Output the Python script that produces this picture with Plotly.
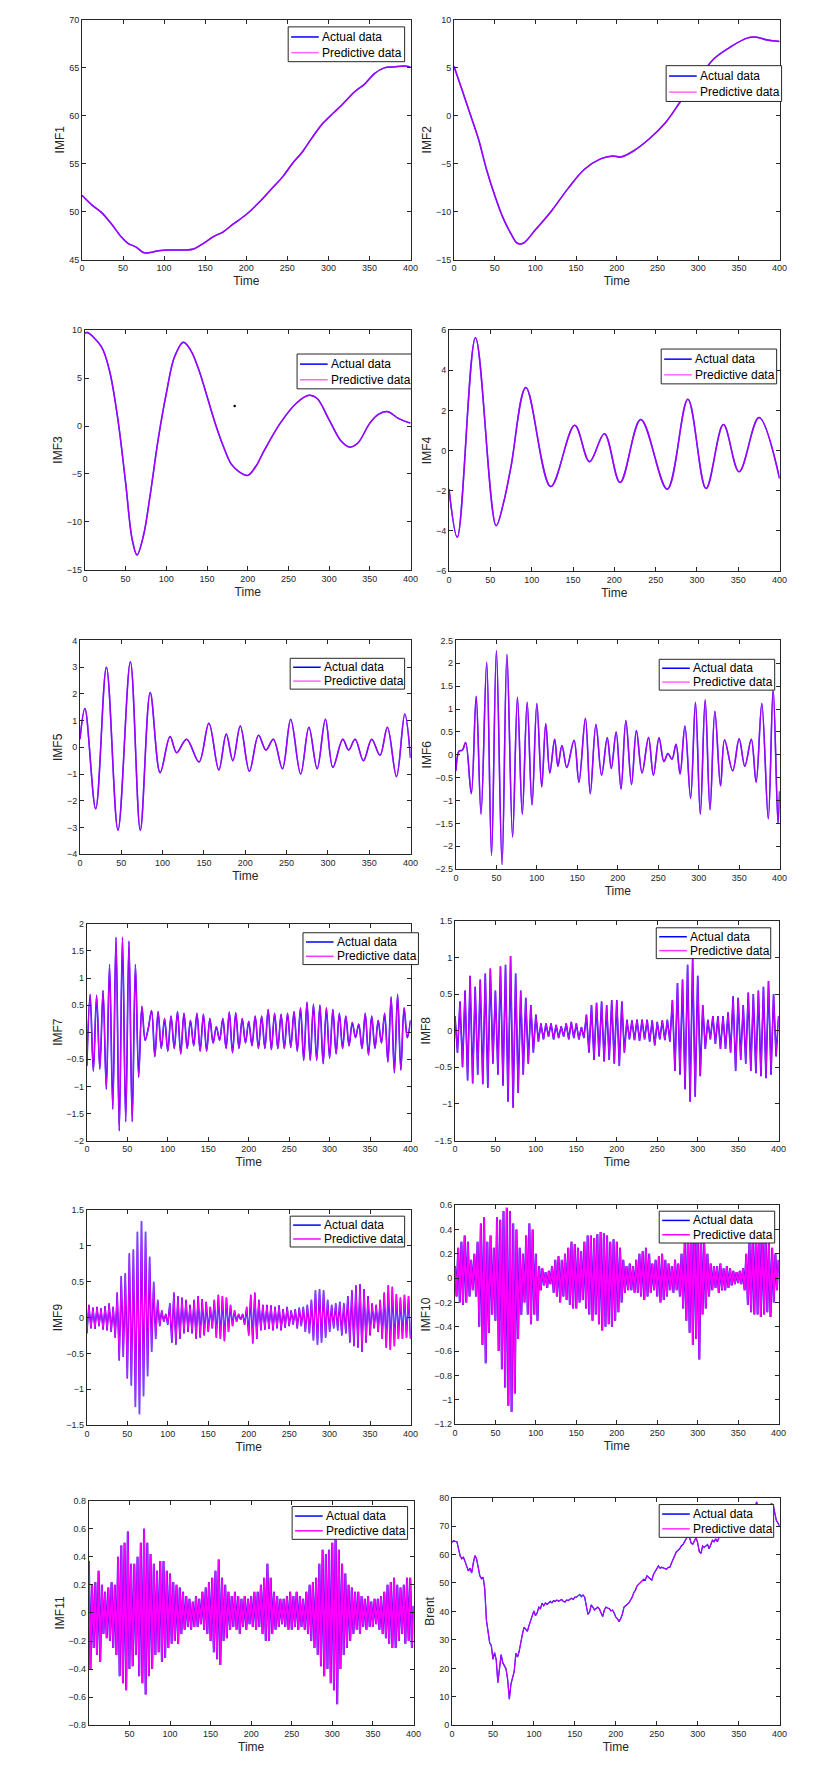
import plotly.graph_objects as go

# ---------------- data ----------------
imf1_time = [0, 12, 24, 36, 48, 56, 66, 76, 92, 104, 124, 136, 148, 160, 172, 184, 200, 216,
             232, 244, 256, 268, 280, 292, 300, 316, 332, 344, 356, 368, 380, 392, 400]
imf1_actual = [51.7, 50.7, 49.9, 48.7, 47.35, 46.7, 46.3, 45.7, 45.9, 46.0, 46.0, 46.1, 46.7, 47.4,
               47.9, 48.7, 49.7, 51.0, 52.5, 53.6, 55.0, 56.2, 57.7, 59.1, 59.8, 61.1, 62.5, 63.3,
               64.4, 65.0, 65.1, 65.2, 65.1]
imf1_predictive = list(imf1_actual)

imf2_time = [0, 10, 20, 30, 40, 50, 60, 70, 78, 85, 100, 120, 140, 160, 180, 195, 205, 220, 240,
             260, 280, 300, 320, 340, 360, 372, 385, 400]
imf2_actual = [5.16, 2.7, 0.15, -2.4, -5.6, -8.3, -10.6, -12.3, -13.3, -13.3, -11.9, -9.9, -7.6,
               -5.6, -4.5, -4.2, -4.3, -3.7, -2.4, -0.7, 1.7, 3.9, 6.0, 7.2, 8.1, 8.2, 7.9, 7.75]
imf2_predictive = list(imf2_actual)

imf3_time = [0, 3, 20, 30, 40, 50, 58, 64, 72, 80, 90, 100, 110, 121, 130, 140, 150, 160, 170,
             180, 190, 200, 210, 220, 240, 260, 275, 285, 300, 315, 325, 335, 350, 360, 372, 385, 400]
imf3_actual = [9.7, 9.75, 8.3, 5.85, 1.0, -5.9, -11.8, -13.45, -11.4, -7.3, -1.4, 3.4, 7.2, 8.75,
               7.9, 5.85, 3.1, 0.3, -2.1, -4.0, -4.8, -5.15, -4.2, -2.6, 0.3, 2.4, 3.2, 2.9, 0.65,
               -1.6, -2.2, -1.8, 0.3, 1.2, 1.5, 0.8, 0.3]
imf3_predictive = list(imf3_actual)
imf3_stray_time = [184]
imf3_stray_value = [2.1]

imf4_time = [0, 10, 32, 57, 66, 75, 93, 123, 152, 170, 188, 207, 232, 264, 289, 311, 332, 351, 375, 400]
imf4_actual = [-1.93, -4.33, 5.62, -3.75, -2.6, -0.8, 3.14, -1.8, 1.26, -0.56, 0.84, -1.6, 1.55,
               -1.93, 2.55, -1.9, 1.29, -1.06, 1.64, -1.4]
imf4_predictive = list(imf4_actual)

imf5_time = [0, 6, 19, 32, 46, 61, 73, 85, 97, 109, 117, 129, 144, 156, 168, 177, 185, 194, 205,
             216, 225, 234, 245, 255, 267, 277, 287, 297, 306, 318, 325, 333, 343, 353, 363, 372,
             383, 393, 400]
imf5_actual = [0.3, 1.45, -2.3, 3.0, -3.1, 3.2, -3.1, 2.05, -0.95, 0.4, -0.2, 0.3, -0.55, 0.9,
               -0.85, 0.5, -0.5, 0.8, -0.9, 0.45, -0.1, 0.3, -0.8, 1.05, -1.0, 0.75, -0.8, 1.05,
               -0.75, 0.3, -0.1, 0.3, -0.5, 0.3, -0.3, 0.75, -1.1, 1.25, -0.4]
imf5_predictive = list(imf5_actual)

imf6_time = [0, 4, 8, 12, 19, 25, 31, 38, 44, 50, 57, 63, 70, 76, 82, 88, 94, 100, 106, 111, 116,
             122, 126, 131, 137, 146, 152, 160, 166, 173, 180, 187, 192, 198, 204, 210, 217, 223,
             230, 238, 244, 251, 257, 262, 267, 272, 277, 283, 290, 296, 302, 308, 314, 320, 327,
             332, 342, 350, 357, 365, 371, 378, 386, 392, 398, 400]
imf6_actual = [-0.35, 0.08, 0.1, 0.27, -0.85, 1.28, -1.3, 2.02, -2.2, 2.28, -2.4, 2.2, -1.8, 1.26,
               -1.3, 1.15, -1.1, 1.12, -0.7, 0.68, -0.4, 0.34, -0.25, 0.2, -0.28, 0.32, -0.6, 0.8,
               -0.85, 0.66, -0.45, 0.37, -0.3, 0.5, -0.75, 0.75, -0.65, 0.53, -0.4, 0.38, -0.45,
               0.37, -0.15, 0.03, -0.1, 0.23, -0.42, 0.63, -0.95, 1.15, -1.3, 1.2, -1.2, 0.95,
               -0.68, 0.33, -0.35, 0.35, -0.25, 0.34, -0.6, 1.12, -1.4, 1.45, -1.5, -0.8]
imf6_predictive = list(imf6_actual)

imf7_time = list(range(0, 401, 4))
imf7_actual = [-0.62, 0.7, -0.72, 0.68, -0.68, 0.77, -1.05, 1.25, -1.42, 1.75,
               -1.82, 1.75, -1.65, 1.68, -1.65, 1.25, -0.83, 0.48, -0.15, 0.08,
               0.4, -0.45, 0.38, -0.3, 0.25, -0.35, 0.3, -0.3, 0.38, -0.4,
               0.35, -0.3, 0.22, -0.25, 0.35, -0.35, 0.33, -0.35, 0.25, -0.2,
               0.1, -0.15, 0.25, -0.3, 0.37, -0.38, 0.36, -0.3, 0.25, -0.2,
               0.2, -0.25, 0.3, -0.3, 0.3, -0.3, 0.42, -0.32, 0.35, -0.3,
               0.33, -0.3, 0.35, -0.28, 0.38, -0.35, 0.45, -0.52, 0.55, -0.52,
               0.52, -0.52, 0.5, -0.58, 0.45, -0.48, 0.42, -0.4, 0.35, -0.3,
               0.3, -0.25, 0.18, -0.1, 0.15, -0.3, 0.35, -0.42, 0.3, -0.3,
               0.22, -0.2, 0.35, -0.55, 0.65, -0.75, 0.7, -0.7, 0.45, -0.1,
               0.22]
imf7_predictive = list(imf7_actual)

imf8_time = [i * 3.125 for i in range(129)]
imf8_actual = [0.2, -0.3, 0.4, -0.5, 0.55, -0.68, 0.75, -0.72, 0.6, -0.6,
               0.7, -0.73, 0.78, -0.78, 0.85, -0.45, 0.55, -0.6, 0.88, -0.75,
               0.9, -0.97, 1.02, -1.05, 0.78, -0.85, 0.55, -0.6, 0.45, -0.45,
               0.35, -0.3, 0.22, -0.15, 0.1, -0.12, 0.1, -0.08, 0.1, -0.12,
               0.08, -0.1, 0.06, -0.08, 0.1, -0.12, 0.12, -0.1, 0.1, -0.12,
               0.05, -0.1, 0.22, -0.3, 0.35, -0.4, 0.38, -0.35, 0.4, -0.42,
               0.35, -0.4, 0.42, -0.45, 0.42, -0.48, 0.4, -0.3, 0.15, -0.12,
               0.14, -0.13, 0.15, -0.14, 0.15, -0.12, 0.15, -0.15, 0.14, -0.2,
               0.12, -0.12, 0.14, -0.13, 0.15, -0.15, 0.42, -0.55, 0.65, -0.6,
               0.7, -0.8, 0.9, -0.97, 1.0, -0.9, 0.75, -0.62, 0.35, -0.25,
               0.15, -0.12, 0.2, -0.18, 0.2, -0.25, 0.2, -0.25, 0.25, -0.3,
               0.47, -0.55, 0.45, -0.4, 0.35, -0.45, 0.52, -0.55, 0.5, -0.58,
               0.55, -0.62, 0.6, -0.65, 0.68, -0.6, 0.5, -0.35, 0.2]
imf8_predictive = list(imf8_actual)

imf9_time = [i * 2.5 for i in range(161)]
imf9_actual = [-0.22, 0.18, -0.15, 0.14, -0.16, 0.15, -0.12, 0.13, -0.17, 0.16,
               -0.18, 0.2, -0.2, 0.15, -0.28, 0.35, -0.6, 0.58, -0.55, 0.62,
               -0.85, 0.9, -0.95, 0.95, -1.25, 1.2, -1.35, 1.35, -1.1, 1.2,
               -0.82, 0.85, -0.48, 0.5, -0.3, 0.25, -0.12, 0.1, -0.06, 0.05,
               -0.1, 0.2, -0.35, 0.35, -0.38, 0.3, -0.3, 0.28, -0.22, 0.25,
               -0.2, 0.18, -0.22, 0.25, -0.3, 0.3, -0.28, 0.26, -0.25, 0.22,
               -0.2, 0.15, -0.15, 0.25, -0.28, 0.32, -0.3, 0.3, -0.33, 0.28,
               -0.2, 0.18, -0.12, 0.1, -0.06, 0.05, -0.03, 0.05, -0.1, 0.15,
               -0.25, 0.32, -0.36, 0.35, -0.3, 0.25, -0.18, 0.18, -0.17, 0.18,
               -0.16, 0.17, -0.18, 0.15, -0.15, 0.17, -0.18, 0.12, -0.14, 0.15,
               -0.12, 0.1, -0.1, 0.12, -0.15, 0.14, -0.12, 0.15, -0.2, 0.18,
               -0.22, 0.25, -0.32, 0.38, -0.38, 0.4, -0.35, 0.38, -0.28, 0.25,
               -0.2, 0.18, -0.15, 0.2, -0.18, 0.22, -0.25, 0.2, -0.22, 0.3,
               -0.35, 0.38, -0.4, 0.45, -0.42, 0.47, -0.48, 0.4, -0.35, 0.3,
               -0.25, 0.2, -0.15, 0.18, -0.2, 0.25, -0.3, 0.35, -0.42, 0.45,
               -0.45, 0.43, -0.4, 0.33, -0.3, 0.28, -0.3, 0.32, -0.28, 0.3,
               -0.3]
imf9_predictive = list(imf9_actual)

imf10_time = list(range(0, 401, 2))
imf10_actual = [0.1, -0.15, 0.25, -0.2, 0.3, -0.22, 0.35, -0.2, 0.3, -0.15,
                0.15, -0.1, 0.2, -0.15, 0.3, -0.4, 0.45, -0.55, 0.5, -0.7,
                0.3, -0.45, 0.35, -0.3, 0.25, -0.35, 0.5, -0.6, 0.48, -0.75,
                0.55, -0.9, 0.58, -1.05, 0.55, -1.1, 0.45, -0.95, 0.4, -0.5,
                0.25, -0.3, 0.2, -0.2, 0.35, -0.3, 0.45, -0.38, 0.4, -0.3,
                0.2, -0.35, 0.1, -0.1, 0.08, -0.06, 0.05, -0.08, 0.06, -0.05,
                0.1, -0.12, 0.15, -0.15, 0.18, -0.2, 0.15, -0.15, 0.2, -0.18,
                0.25, -0.22, 0.3, -0.25, 0.28, -0.25, 0.25, -0.2, 0.22, -0.18,
                0.3, -0.25, 0.35, -0.3, 0.35, -0.35, 0.33, -0.3, 0.36, -0.38,
                0.38, -0.43, 0.37, -0.4, 0.35, -0.38, 0.3, -0.4, 0.32, -0.35,
                0.3, -0.28, 0.25, -0.2, 0.15, -0.12, 0.1, -0.1, 0.12, -0.1,
                0.1, -0.12, 0.15, -0.12, 0.2, -0.15, 0.22, -0.18, 0.25, -0.15,
                0.2, -0.12, 0.12, -0.1, 0.15, -0.15, 0.18, -0.2, 0.2, -0.18,
                0.15, -0.15, 0.12, -0.1, 0.1, -0.12, 0.15, -0.1, 0.12, -0.15,
                0.2, -0.25, 0.3, -0.35, 0.4, -0.45, 0.5, -0.55, 0.55, -0.5,
                0.45, -0.67, 0.4, -0.3, 0.3, -0.25, 0.2, -0.15, 0.12, -0.1,
                0.1, -0.08, 0.1, -0.12, 0.12, -0.1, 0.08, -0.1, 0.1, -0.08,
                0.08, -0.06, 0.06, -0.05, 0.05, -0.04, 0.06, -0.05, 0.08, -0.1,
                0.2, -0.22, 0.3, -0.28, 0.35, -0.3, 0.4, -0.3, 0.45, -0.32,
                0.4, -0.3, 0.35, -0.28, 0.3, -0.32, 0.25, -0.2, 0.2, -0.1,
                0.15]
imf10_predictive = list(imf10_actual)

imf11_time = list(range(0, 401, 2))
imf11_actual = [0.37, -0.4, 0.2, -0.25, 0.22, -0.3, 0.3, -0.35, 0.2, -0.15,
                0.15, -0.18, 0.18, -0.2, 0.22, -0.25, 0.2, -0.3, 0.4, -0.45,
                0.48, -0.5, 0.5, -0.55, 0.58, -0.4, 0.35, -0.38, 0.35, -0.3,
                0.4, -0.45, 0.5, -0.5, 0.6, -0.58, 0.5, -0.45, 0.42, -0.4,
                0.35, -0.3, 0.3, -0.28, 0.37, -0.35, 0.37, -0.32, 0.3, -0.25,
                0.28, -0.22, 0.22, -0.2, 0.2, -0.22, 0.18, -0.15, 0.15, -0.12,
                0.12, -0.1, 0.1, -0.12, 0.08, -0.1, 0.12, -0.1, 0.1, -0.08,
                0.15, -0.12, 0.18, -0.15, 0.22, -0.2, 0.25, -0.28, 0.3, -0.33,
                0.38, -0.37, 0.25, -0.2, 0.2, -0.18, 0.15, -0.12, 0.12, -0.1,
                0.15, -0.12, 0.12, -0.15, 0.1, -0.1, 0.12, -0.12, 0.1, -0.08,
                0.12, -0.1, 0.15, -0.12, 0.15, -0.1, 0.2, -0.15, 0.25, -0.2,
                0.35, -0.2, 0.25, -0.15, 0.15, -0.12, 0.12, -0.1, 0.1, -0.08,
                0.1, -0.1, 0.12, -0.12, 0.15, -0.12, 0.12, -0.1, 0.15, -0.12,
                0.12, -0.1, 0.1, -0.12, 0.15, -0.15, 0.2, -0.2, 0.22, -0.25,
                0.25, -0.3, 0.35, -0.38, 0.45, -0.45, 0.42, -0.4, 0.45, -0.5,
                0.5, -0.55, 0.6, -0.65, 0.45, -0.4, 0.35, -0.3, 0.28, -0.25,
                0.2, -0.2, 0.18, -0.15, 0.15, -0.12, 0.15, -0.15, 0.12, -0.1,
                0.1, -0.12, 0.12, -0.1, 0.08, -0.1, 0.1, -0.08, 0.1, -0.12,
                0.12, -0.15, 0.15, -0.18, 0.2, -0.22, 0.22, -0.25, 0.25, -0.25,
                0.2, -0.2, 0.18, -0.15, 0.2, -0.22, 0.25, -0.2, 0.25, -0.25,
                0.05]
imf11_predictive = list(imf11_actual)

brent_time = list(range(0, 401, 2))
brent_actual = [64.3, 64.8, 64.6, 64.5, 62, 59.5, 58.5, 59, 57.5, 56,
                54.2, 55.2, 53.5, 57, 59.6, 58.5, 56, 52.5, 51.5, 52,
                48, 37, 33, 29, 28, 23.2, 25.5, 23, 15, 20,
                24.8, 22, 21, 19.8, 16, 9.2, 14.5, 16.5, 19, 25.3,
                24, 26, 29.5, 32, 34.5, 33.5, 33, 35, 36.5, 38,
                40.2, 38.5, 39.5, 41.5, 41, 42.9, 42, 43, 42.5, 43,
                43.5, 43, 43.8, 43.5, 44, 43.6, 43.8, 44.2, 43.5, 43.3,
                44, 43.8, 44.3, 44.6, 44.2, 45, 45, 45.6, 46, 45.2,
                45.8, 45, 41.5, 39, 39.8, 42.3, 41.5, 40.5, 41, 41.5,
                40.8, 39.5, 38.2, 40.5, 41.5, 41.2, 41, 40.2, 40.5, 39.5,
                38, 37.5, 36.4, 37.5, 39, 41.5, 42, 42.5, 43, 44,
                45, 46.6, 47.5, 49, 49.5, 50, 50.5, 51.3, 51, 52.5,
                52, 51.5, 51, 53, 54, 55.5, 56, 55.2, 55.5, 55.3,
                55, 54.8, 55.5, 55.5, 57, 58.5, 60, 61, 61.5, 62,
                63, 63.5, 64.5, 65.5, 66.5, 66, 64, 63.6, 65, 66,
                64, 61, 60.4, 63, 62.5, 63, 63.5, 62, 63.5, 65,
                64.5, 65.5, 64.5, 66, 66.5, 67, 66.5, 68, 67.5, 68.5,
                69, 68, 69.5, 70, 69, 70.5, 71, 70, 71.5, 72,
                71.5, 73, 73.5, 74, 75, 77, 78.5, 76, 75.5, 76,
                76.5, 76, 77, 76.5, 77, 77.8, 77.5, 74, 72, 71,
                70]
brent_predictive = list(brent_actual)

time_ticks = [0, 50, 100, 150, 200, 250, 300, 350, 400]
imf11_time_ticks = [50, 100, 150, 200, 250, 300, 350, 400]
legend_names = ["Actual data", "Predictive data"]

# ---------------- panel layout (pixel boxes) ----------------
W, H = 833, 1781
panels = [
    dict(label="IMF1", t=imf1_time, a=imf1_actual, p=imf1_predictive, yr=[45, 70], dt=5,
         box=(80, 413, 15, 256), leg=(289, 22, 118, 35), shape="spline", style="smooth"),
    dict(label="IMF2", t=imf2_time, a=imf2_actual, p=imf2_predictive, yr=[-15, 10], dt=5,
         box=(457, 787, 15, 256), leg=(672, 61, 117, 36), shape="spline", style="smooth"),
    dict(label="IMF3", t=imf3_time, a=imf3_actual, p=imf3_predictive, yr=[-15, 10], dt=5,
         box=(83, 413, 327, 568), leg=(298, 351, 116, 35), shape="spline", style="smooth"),
    dict(label="IMF4", t=imf4_time, a=imf4_actual, p=imf4_predictive, yr=[-6, 6], dt=2,
         box=(452, 787, 327, 569), leg=(667, 346, 117, 35), shape="spline", style="smooth"),
    dict(label="IMF5", t=imf5_time, a=imf5_actual, p=imf5_predictive, yr=[-4, 4], dt=1,
         box=(78, 413, 639, 854), leg=(291, 657, 116, 31), shape="spline", style="smooth"),
    dict(label="IMF6", t=imf6_time, a=imf6_actual, p=imf6_predictive, yr=[-2.5, 2.5], dt=0.5,
         box=(459, 787, 639, 869), leg=(665, 658, 117, 31), shape="spline", style="smooth"),
    dict(label="IMF7", t=imf7_time, a=imf7_actual, p=imf7_predictive, yr=[-2, 2], dt=0.5,
         box=(85, 413, 924, 1142), leg=(304, 933, 117, 32), shape="spline", style="osc"),
    dict(label="IMF8", t=imf8_time, a=imf8_actual, p=imf8_predictive, yr=[-1.5, 1.5], dt=0.5,
         box=(458, 786, 921, 1142), leg=(662, 928, 116, 31), shape="linear", style="osc"),
    dict(label="IMF9", t=imf9_time, a=imf9_actual, p=imf9_predictive, yr=[-1.5, 1.5], dt=0.5,
         box=(85, 413, 1212, 1428), leg=(291, 1218, 116, 31), shape="linear", style="mid"),
    dict(label="IMF10", t=imf10_time, a=imf10_actual, p=imf10_predictive, yr=[-1.2, 0.6], dt=0.2,
         box=(458, 786, 1207, 1427), leg=(665, 1213, 117, 32), shape="linear", style="dense"),
    dict(label="IMF11", t=imf11_time, a=imf11_actual, p=imf11_predictive, yr=[-0.8, 0.8], dt=0.2,
         box=(87, 416, 1504, 1730), leg=(293, 1510, 117, 33), shape="linear", style="dense"),
    dict(label="Brent", t=brent_time, a=brent_actual, p=brent_predictive, yr=[0, 80], dt=10,
         box=(455, 787, 1501, 1730), leg=(665, 1508, 116, 33), shape="linear", style="brent"),
]

FONT = "Liberation Sans, Arial, sans-serif"
AXC = "#262626"
BLUE = "#0000ff"
MAGENTA = "#ff00ff"

# line styles: (actual width, predictive width, predictive opacity)
STYLES = {
    "smooth": (1.5, 1.5, 0.6),
    "osc": (1.6, 1.2, 0.8),
    "mid": (1.5, 1.1, 1.0),
    "dense": (2.0, 1.6, 1.0),
    "brent": (1.3, 1.0, 0.8),
}

fig = go.Figure()
layout = dict(width=W, height=H, margin=dict(l=0, r=0, t=0, b=0, pad=0), autosize=False,
              paper_bgcolor="white", plot_bgcolor="white", showlegend=False,
              font=dict(family=FONT, color=AXC))
shapes = []
annotations = []


def px(x):
    return x / W


def py(y):
    return 1 - y / H


for k, pn in enumerate(panels, start=1):
    xa = "x" if k == 1 else f"x{k}"
    ya = "y" if k == 1 else f"y{k}"
    aw, pw, pop = STYLES[pn["style"]]
    fig.add_trace(go.Scatter(x=pn["t"], y=pn["a"], xaxis=xa, yaxis=ya,
                             name=legend_names[0], mode="lines",
                             line=dict(color=BLUE, width=aw, shape=pn["shape"])))
    fig.add_trace(go.Scatter(x=pn["t"], y=pn["p"], xaxis=xa, yaxis=ya,
                             name=legend_names[1], mode="lines", opacity=pop,
                             line=dict(color=MAGENTA, width=pw, shape=pn["shape"])))
    l, r, t, b = pn["box"]
    xkey = "xaxis" if k == 1 else f"xaxis{k}"
    ykey = "yaxis" if k == 1 else f"yaxis{k}"
    common = dict(showline=True, linecolor=AXC, linewidth=1, mirror="ticks",
                  ticks="inside", ticklen=4, tickcolor=AXC, tickwidth=1,
                  showgrid=False, zeroline=False,
                  tickfont=dict(family=FONT, size=9, color=AXC))
    tv = imf11_time_ticks if pn["label"] == "IMF11" else time_ticks
    layout[xkey] = dict(domain=[px(l), px(r)], anchor=ya, range=[0, 400], tickvals=tv,
                        title=dict(text="Time", font=dict(family=FONT, size=12, color=AXC),
                                   standoff=4),
                        **common)
    layout[ykey] = dict(domain=[py(b), py(t)], anchor=xa, range=pn["yr"],
                        dtick=pn["dt"], tick0=0,
                        title=dict(text=pn["label"], font=dict(family=FONT, size=12, color=AXC),
                                   standoff=1),
                        **common)

    # legend box (MATLAB style)
    lx, ly, lw, lh = pn["leg"]
    shapes.append(dict(type="rect", xref="paper", yref="paper", layer="above",
                       x0=px(lx), x1=px(lx + lw), y0=py(ly + lh), y1=py(ly),
                       fillcolor="white", line=dict(color=AXC, width=1)))
    rows = [ly + lh * 0.29, ly + lh * 0.74]
    colors = [(BLUE, 1.0), (MAGENTA, pop)]
    for (col, op), yy, name in zip(colors, rows, legend_names):
        shapes.append(dict(type="line", xref="paper", yref="paper", layer="above",
                           x0=px(lx + 3), x1=px(lx + 31), y0=py(yy), y1=py(yy),
                           opacity=op, line=dict(color=col, width=1.5)))
        annotations.append(dict(x=px(lx + 32), y=py(yy), xref="paper", yref="paper",
                                text=name, showarrow=False, xanchor="left",
                                yanchor="middle",
                                font=dict(family=FONT, size=12, color="black")))

# stray dot visible in the IMF3 panel
fig.add_trace(go.Scatter(x=imf3_stray_time, y=imf3_stray_value, xaxis="x3", yaxis="y3",
                         mode="markers", marker=dict(color="black", size=2.5),
                         showlegend=False, hoverinfo="skip"))

layout["shapes"] = shapes
layout["annotations"] = annotations
fig.update_layout(**layout)
fig.write_html(
    "out.html",
    config={"displayModeBar": False},
    post_script="document.body.style.margin='0';document.body.style.padding='0';"
                "document.body.style.overflow='hidden';",
)
